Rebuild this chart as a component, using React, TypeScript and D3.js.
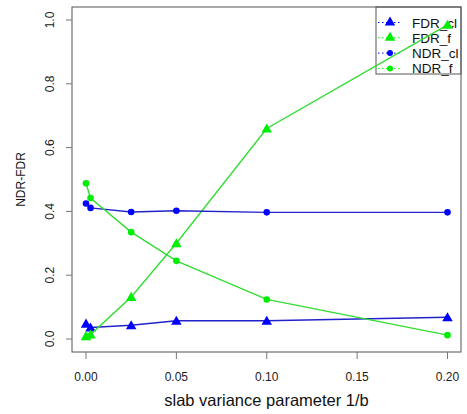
import React from "react";
import * as d3 from "d3";

const xValues = [0, 0.0025, 0.025, 0.05, 0.1, 0.2];
const fdrCl = [0.048, 0.036, 0.043, 0.057, 0.057, 0.068];
const fdrF = [0.009, 0.014, 0.132, 0.3, 0.66, 0.985];
const ndrCl = [0.425, 0.411, 0.398, 0.402, 0.397, 0.397];
const ndrF = [0.488, 0.442, 0.335, 0.245, 0.124, 0.012];
const xTicks = [0, 0.05, 0.1, 0.15, 0.2];
const yTicks = [0, 0.2, 0.4, 0.6, 0.8, 1.0];
const seriesNames = ["FDR_cl", "FDR_f", "NDR_cl", "NDR_f"];

const W = 467, H = 414;
const box = { left: 72, right: 461, top: 7, bottom: 352 };
const BLUE = "#0000ff";
const GREEN = "#00ee00";
const LBLUE = "#2222cc";
const LGREEN = "#33dd33";
const FONT = "'Liberation Sans', Arial, sans-serif";

export default function App() {
  const x = d3.scaleLinear().domain([0, 0.2]).range([86, 447.5]);
  const y = d3.scaleLinear().domain([0, 1]).range([339, 20]);
  const line = d3.line<[number, number]>().x(d => x(d[0])).y(d => y(d[1]));
  const series = [
    { name: seriesNames[0], vals: fdrCl, color: BLUE, lc: LBLUE, shape: "tri" },
    { name: seriesNames[1], vals: fdrF, color: GREEN, lc: LGREEN, shape: "tri" },
    { name: seriesNames[2], vals: ndrCl, color: BLUE, lc: LBLUE, shape: "dot" },
    { name: seriesNames[3], vals: ndrF, color: GREEN, lc: LGREEN, shape: "dot" },
  ];
  const tri = d3.symbol().type(d3.symbolTriangle).size(48);
  const triPath = tri() as string;

  const legX = 376, legY = 7, legW = box.right - 376, legH = 67;

  return (
    <svg width={W} height={H} style={{ position: "absolute", left: 0, top: 0, background: "#fff" }} fontFamily={FONT}>
      <rect x={0} y={0} width={W} height={H} fill="#fff" />
      {/* legend */}
      <rect x={legX} y={legY} width={legW} height={legH} fill="#fff" stroke="#555" />
      {series.map((s, i) => {
        const cy = 22.5 + i * 15.3;
        return (
          <g key={s.name}>
            <line x1={legX + 2} x2={legX + 26} y1={cy} y2={cy} stroke={s.color} strokeDasharray="1.5,2.5" />
            {s.shape === "tri" ? (
              <path d={triPath} transform={`translate(${legX + 14},${cy})`} fill={s.color} />
            ) : (
              <circle cx={legX + 14} cy={cy} r={3} fill={s.color} />
            )}
            <text x={legX + 36} y={cy + 5} fontSize={13.5} fill="#111">{s.name}</text>
          </g>
        );
      })}
      {series.map(s => (
        <g key={s.name}>
          <path d={line(xValues.map((v, i) => [v, s.vals[i]]) as [number, number][]) as string}
            fill="none" stroke={s.lc} strokeWidth={1.4} />
          {xValues.map((v, i) =>
            s.shape === "tri" ? (
              <path key={i} d={triPath} transform={`translate(${x(v)},${y(s.vals[i]) + 1})`} fill={s.color} />
            ) : (
              <circle key={i} cx={x(v)} cy={y(s.vals[i])} r={3.3} fill={s.color} />
            )
          )}
        </g>
      ))}
      {/* box */}
      <rect x={box.left} y={box.top} width={box.right - box.left} height={box.bottom - box.top} fill="none" stroke="#555" strokeWidth={1} />
      {/* x axis */}
      {xTicks.map(t => (
        <g key={t}>
          <line x1={x(t)} x2={x(t)} y1={box.bottom} y2={box.bottom + 7} stroke="#777" />
          <text x={x(t)} y={381} textAnchor="middle" fontSize={12} fill="#222">{t.toFixed(2)}</text>
        </g>
      ))}
      <text x={(box.left + box.right) / 2} y={406} textAnchor="middle" fontSize={16.5} fill="#111">slab variance parameter 1/b</text>
      {/* y axis */}
      {yTicks.map(t => (
        <g key={t}>
          <line x1={box.left - 6} x2={box.left} y1={y(t)} y2={y(t)} stroke="#777" />
          <text transform={`translate(54,${y(t)}) rotate(-90)`} textAnchor="middle" fontSize={12} fill="#222">{t.toFixed(1)}</text>
        </g>
      ))}
      <text transform={`translate(25,${(box.top + box.bottom) / 2}) rotate(-90)`} textAnchor="middle" fontSize={12} fill="#111">NDR-FDR</text>
    </svg>
  );
}
